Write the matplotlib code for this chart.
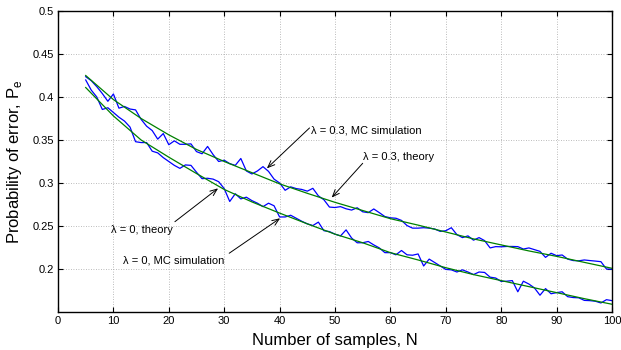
import matplotlib
matplotlib.use("Agg")
import matplotlib.pyplot as plt

plt.rcParams['font.family'] = ['Liberation Sans', 'DejaVu Sans']

# theory curves, read every 5 samples
n_theory = [5, 10, 15, 20, 25, 30, 35, 40, 45, 50, 55, 60, 65, 70, 75, 80, 85, 90, 95, 100]
pe_theory_03 = [0.425, 0.397, 0.375, 0.356, 0.339, 0.325, 0.312, 0.299, 0.288, 0.2775,
                0.268, 0.2585, 0.251, 0.243, 0.235, 0.228, 0.221, 0.2147, 0.2077, 0.2008]
pe_theory_0 = [0.411, 0.378, 0.350, 0.330, 0.311, 0.2925, 0.278, 0.265, 0.2525, 0.2405,
               0.2305, 0.219, 0.2105, 0.2015, 0.1935, 0.1865, 0.1795, 0.1725, 0.1655, 0.159]

# Monte Carlo simulation, N = 5..100
n_mc = list(range(5, 101))
pe_mc_03 = [0.4236, 0.419, 0.412, 0.404, 0.395, 0.4035, 0.387, 0.389, 0.386, 0.385,
            0.374, 0.366, 0.361, 0.351, 0.3575, 0.3445, 0.349, 0.345, 0.345, 0.3455,
            0.3365, 0.334, 0.3425, 0.333, 0.325, 0.3265, 0.3225, 0.3205, 0.3285, 0.314,
            0.3105, 0.314, 0.319, 0.3135, 0.3045, 0.300, 0.2915, 0.2955, 0.2935, 0.2925,
            0.2905, 0.2938, 0.285, 0.2805, 0.272, 0.2715, 0.2725, 0.270, 0.2685, 0.2712,
            0.2665, 0.2655, 0.2698, 0.2655, 0.261, 0.2595, 0.259, 0.2565, 0.2505, 0.2475,
            0.2475, 0.248, 0.2475, 0.2465, 0.2437, 0.2445, 0.248, 0.240, 0.2365, 0.2385,
            0.2335, 0.2365, 0.233, 0.2245, 0.226, 0.2258, 0.2262, 0.2262, 0.226, 0.2232,
            0.2245, 0.2225, 0.2205, 0.2135, 0.2183, 0.2155, 0.2163, 0.2115, 0.2098, 0.2095,
            0.2105, 0.2098, 0.2092, 0.2085, 0.2000, 0.1996]
pe_mc_0 = [0.4198, 0.408, 0.400, 0.3855, 0.3875, 0.382, 0.3765, 0.372, 0.365, 0.348,
           0.347, 0.347, 0.337, 0.335, 0.3295, 0.325, 0.3205, 0.317, 0.321, 0.3205,
           0.3125, 0.305, 0.3055, 0.3045, 0.3015, 0.2935, 0.2785, 0.2875, 0.2815, 0.2835,
           0.2795, 0.2765, 0.2725, 0.2765, 0.2735, 0.2605, 0.2605, 0.2625, 0.259, 0.2555,
           0.2525, 0.2505, 0.2545, 0.2445, 0.2435, 0.2405, 0.2385, 0.2455, 0.236, 0.2305,
           0.2305, 0.232, 0.228, 0.2245, 0.219, 0.219, 0.2165, 0.2215, 0.2165, 0.216,
           0.2175, 0.2035, 0.2115, 0.2075, 0.2035, 0.1995, 0.199, 0.1965, 0.199, 0.1965,
           0.1935, 0.1965, 0.196, 0.1905, 0.1895, 0.1855, 0.1858, 0.1865, 0.1735, 0.1858,
           0.1825, 0.178, 0.1695, 0.1772, 0.1712, 0.1725, 0.1735, 0.1678, 0.1668, 0.1665,
           0.1635, 0.1632, 0.1625, 0.1605, 0.1643, 0.1632]

x_ticks = list(range(0, 101, 10))
y_ticks = [0.2, 0.25, 0.3, 0.35, 0.4, 0.45, 0.5]

fig = plt.figure(figsize=(6.21, 3.5), dpi=100)
ax = fig.add_axes([0.0934, 0.1086, 0.8921, 0.86])

ax.plot(n_mc, pe_mc_03, color='#0000ff', lw=0.9)
ax.plot(n_mc, pe_mc_0, color='#0000ff', lw=0.9)
ax.plot(n_theory, pe_theory_03, color='#008000', lw=0.9)
ax.plot(n_theory, pe_theory_0, color='#008000', lw=0.9)

ax.set_xlim(0, 100)
ax.set_ylim(0.15, 0.5)
ax.set_xticks(x_ticks)
ax.set_yticks(y_ticks)
ax.set_yticklabels([f"{v:g}" for v in y_ticks])
ax.grid(True, color='0.65', linestyle=(0, (1, 2)), lw=0.6)
ax.tick_params(direction='in', top=True, right=True, length=3.5, width=0.8,
               labelsize=8, pad=3)
for s in ax.spines.values():
    s.set_linewidth(1.0)

ax.set_xlabel("Number of samples, N", fontsize=12, labelpad=5)
ax.set_ylabel("Probability of error, P$_\\mathregular{e}$", fontsize=12, labelpad=6)

arrow = dict(arrowstyle='->,head_length=0.5,head_width=0.2', color='k', lw=0.7,
             shrinkA=0, shrinkB=0)
txt = dict(fontsize=8, ha='left', va='center')

ax.text(45.6, 0.3615, "λ = 0.3, MC simulation", **txt)
ax.annotate('', xy=(37.7, 0.317), xytext=(45.4, 0.364), arrowprops=arrow)

ax.text(55.0, 0.330, "λ = 0.3, theory", **txt)
ax.annotate('', xy=(49.4, 0.283), xytext=(55.0, 0.3229), arrowprops=arrow)

ax.text(9.5, 0.2453, "λ = 0, theory", **txt)
ax.annotate('', xy=(28.9, 0.2938), xytext=(21.1, 0.255), arrowprops=arrow)

ax.text(11.8, 0.2093, "λ = 0, MC simulation", **txt)
ax.annotate('', xy=(40.1, 0.259), xytext=(30.9, 0.2183), arrowprops=arrow)

fig.savefig("out.png", dpi=100)
